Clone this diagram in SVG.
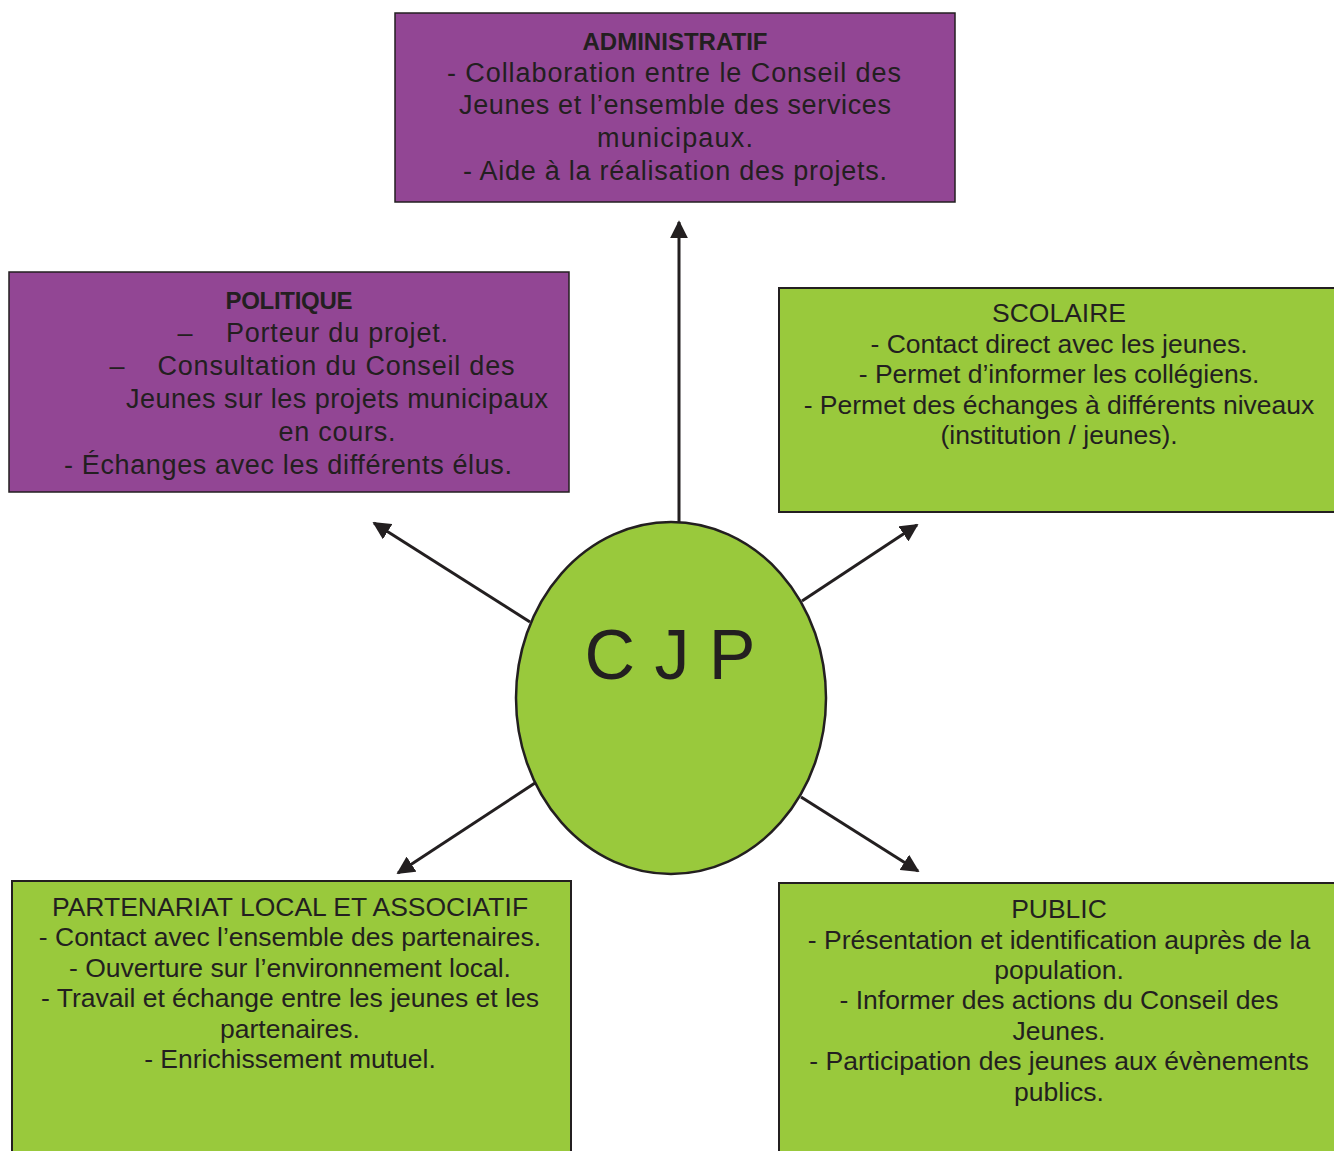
<svg xmlns="http://www.w3.org/2000/svg" width="1334" height="1151" viewBox="0 0 1334 1151">
<defs>
<style>
.purple{fill:#924694;stroke:#231f20;stroke-width:1.5}
.green{fill:#99c93c;stroke:#231f20;stroke-width:2}
.pt{font-family:"Liberation Sans",Arial,sans-serif;font-size:27px;fill:#231f20;text-anchor:middle}
.pb{font-family:"Liberation Sans",Arial,sans-serif;font-size:24px;font-weight:bold;fill:#231f20;text-anchor:middle}
.gt{font-family:"Liberation Sans",Arial,sans-serif;font-size:26.5px;fill:#231f20;text-anchor:middle}
.conn{stroke:#231f20;stroke-width:3;fill:none;marker-end:url(#ah)}
</style>
<marker id="ah" viewBox="0 0 10 10" refX="9" refY="5" markerWidth="6" markerHeight="6" markerUnits="strokeWidth" orient="auto">
<path d="M0,0 L10,5 L0,10 z" fill="#231f20"/>
</marker>
</defs>
<rect width="1334" height="1151" fill="#ffffff"/>
<g id="connectors">
<line class="conn" x1="679" y1="522" x2="679" y2="222"/>
<line class="conn" x1="530" y1="622" x2="374" y2="523"/>
<line class="conn" x1="802" y1="601" x2="917" y2="525"/>
<line class="conn" x1="535" y1="783" x2="398" y2="873"/>
<line class="conn" x1="801" y1="797" x2="918" y2="871"/>
</g>
<g id="administratif">
<rect class="purple" x="395" y="13" width="560" height="189"/>
<text class="pb" x="675" y="50" textLength="185">ADMINISTRATIF</text>
<text class="pt" x="674" y="82" textLength="454">- Collaboration entre le Conseil des</text>
<text class="pt" x="675" y="114" textLength="432">Jeunes et l’ensemble des services</text>
<text class="pt" x="675" y="147" textLength="156">municipaux.</text>
<text class="pt" x="675" y="180" textLength="424">- Aide à la réalisation des projets.</text>
</g>
<g id="politique">
<rect class="purple" x="9" y="272" width="560" height="220"/>
<text class="pb" x="289" y="309" textLength="127">POLITIQUE</text>
<text class="pt" x="185" y="342">–</text>
<text class="pt" x="337" y="342" textLength="222">Porteur du projet.</text>
<text class="pt" x="117" y="375">–</text>
<text class="pt" x="336" y="375" textLength="357">Consultation du Conseil des</text>
<text class="pt" x="337" y="408" textLength="422">Jeunes sur les projets municipaux</text>
<text class="pt" x="337" y="441" textLength="117">en cours.</text>
<text class="pt" x="288" y="474" textLength="448">- Échanges avec les différents élus.</text>
</g>
<g id="scolaire">
<rect class="green" x="779" y="288" width="560" height="224"/>
<text class="gt" x="1059" y="322">SCOLAIRE</text>
<text class="gt" x="1059" y="353">- Contact direct avec les jeunes.</text>
<text class="gt" x="1059" y="383">- Permet d’informer les collégiens.</text>
<text class="gt" x="1059" y="414">- Permet des échanges à différents niveaux</text>
<text class="gt" x="1059" y="444">(institution / jeunes).</text>
</g>
<g id="partenariat">
<rect class="green" x="12" y="881" width="559" height="280"/>
<text class="gt" x="290" y="916">PARTENARIAT LOCAL ET ASSOCIATIF</text>
<text class="gt" x="290" y="946">- Contact avec l’ensemble des partenaires.</text>
<text class="gt" x="290" y="977">- Ouverture sur l’environnement local.</text>
<text class="gt" x="290" y="1007">- Travail et échange entre les jeunes et les</text>
<text class="gt" x="290" y="1038">partenaires.</text>
<text class="gt" x="290" y="1068">- Enrichissement mutuel.</text>
</g>
<g id="public">
<rect class="green" x="779" y="883" width="560" height="280"/>
<text class="gt" x="1059" y="918">PUBLIC</text>
<text class="gt" x="1059" y="949">- Présentation et identification auprès de la</text>
<text class="gt" x="1059" y="979">population.</text>
<text class="gt" x="1059" y="1009">- Informer des actions du Conseil des</text>
<text class="gt" x="1059" y="1040">Jeunes.</text>
<text class="gt" x="1059" y="1070">- Participation des jeunes aux évènements</text>
<text class="gt" x="1059" y="1101">publics.</text>
</g>
<g id="cjp">
<ellipse cx="671" cy="698" rx="155" ry="176" fill="#99c93c" stroke="#231f20" stroke-width="2.5"/>
<text x="670" y="679" font-family="Liberation Sans,Arial,sans-serif" font-size="70" fill="#231f20" text-anchor="middle">C J P</text>
</g>
</svg>
